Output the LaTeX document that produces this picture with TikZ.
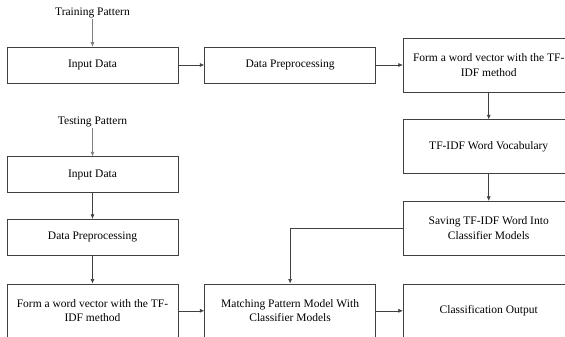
\documentclass[tikz,border=0pt]{standalone}
\usepackage{fontspec}
\setmainfont{Liberation Serif}
\usetikzlibrary{arrows.meta,positioning}
\tikzset{
  blk/.style={draw=black!75,line width=0.6pt,minimum width=171pt,minimum height=36pt,inner sep=0pt,align=center,font=\fontsize{11.5}{14.5}\selectfont},
  tall/.style={blk,minimum height=54pt},
  lab/.style={inner sep=1pt,font=\fontsize{11.5}{14}\selectfont},
  arr/.style={-{Latex[length=4.5pt,width=4pt]},draw=black!75,line width=0.6pt},
  pale/.style={arr,draw=black!50}
}
\begin{document}
\begin{tikzpicture}[x=1pt,y=-1pt,node distance=26pt and 26pt]
  \clip (0,0) rectangle (565,337);
  % training branch
  \node[blk] (in1) at (92.5,65) {Input Data};
  \node[lab,above=28pt of in1] (train) {Training Pattern};
  \node[blk,right=26pt of in1] (pre1) {Data Preprocessing};
  \node[tall,right=27pt of pre1] (form1) {Form a word vector with the TF-\\IDF method};
  \node[tall,below=27pt of form1] (voc) {TF-IDF Word Vocabulary};
  \node[tall,below=27pt of voc] (save) {Saving TF-IDF Word Into\\Classifier Models};
  % testing branch
  \node[tall,below=28pt of save] (out) {Classification Output};
  \node[tall,left=27pt of out] (match) {Matching Pattern Model With\\Classifier Models};
  \node[tall,left=26pt of match] (form2) {Form a word vector with the TF-\\IDF method};
  \node[blk,above=28pt of form2] (pre2) {Data Preprocessing};
  \node[blk,above=26pt of pre2] (in2) {Input Data};
  \node[lab,above=28.5pt of in2] (test) {Testing Pattern};

  \draw[pale] (train) -- (in1);
  \draw[arr] (in1) -- (pre1);
  \draw[arr] (pre1) -- (form1);
  \draw[arr] (form1) -- (voc);
  \draw[arr] (voc) -- (save);
  \draw[pale] (test) -- (in2);
  \draw[arr] (in2) -- (pre2);
  \draw[arr] (pre2) -- (form2);
  \draw[arr] (form2) -- (match);
  \draw[arr] (save.west) -| (match.north);
  \draw[arr] (match) -- (out);
\end{tikzpicture}
\end{document}
